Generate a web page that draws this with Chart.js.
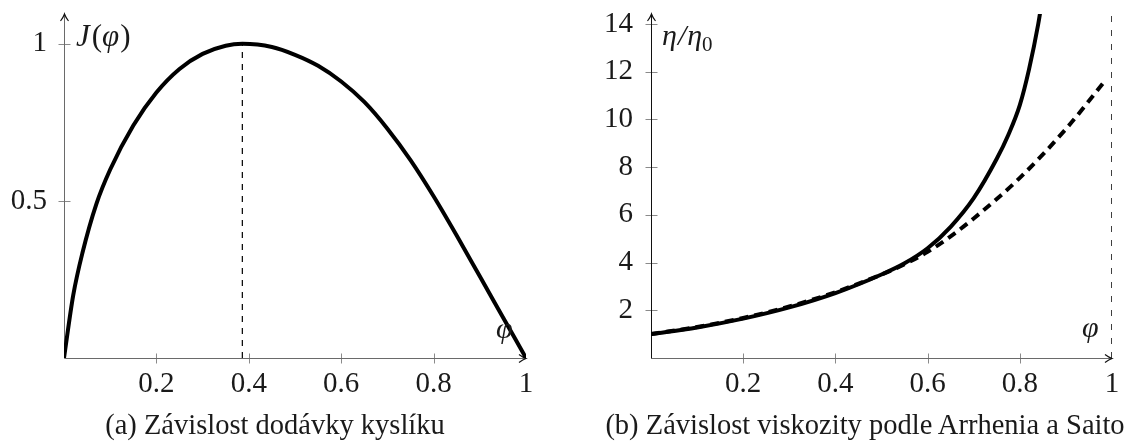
<!DOCTYPE html>
<html>
<head>
<meta charset="utf-8">
<script src="https://cdn.jsdelivr.net/npm/chart.js@4/dist/chart.umd.min.js"></script>
<style>
  body { margin: 0; background: #fff; width: 1128px; height: 446px; overflow: hidden; position: relative; font-family: "Liberation Serif", serif; }
  canvas { position: absolute; top: 0; }
  #left { left: 0; }
  #right { left: 564px; }
  .cap { position: absolute; top: 411px; font-size: 28.5px; line-height: 28.5px; color: #1a1a1a; white-space: nowrap; transform: translateX(-50%); }
</style>
</head>
<body>
<canvas id="left" width="564" height="446"></canvas>
<canvas id="right" width="564" height="446"></canvas>
<div class="cap" style="left:275px">(a) Závislost dodávky kyslíku</div>
<div class="cap" style="left:865px">(b) Závislost viskozity podle Arrhenia a Saito</div>
<script>
// --- data ---
// (a) oxygen delivery J(phi)
const phiJ = [0, 0.02, 0.04, 0.07, 0.1, 0.15, 0.2, 0.25, 0.3, 0.35, 0.386, 0.45, 0.5, 0.55, 0.6, 0.65, 0.7, 0.75, 0.8, 0.85, 0.9, 0.95, 1];
const valJ = [0, 0.2, 0.335, 0.49, 0.6, 0.74, 0.845, 0.92, 0.968, 0.994, 1, 0.99, 0.965, 0.93, 0.88, 0.815, 0.73, 0.63, 0.515, 0.39, 0.26, 0.13, 0];
const peakPhi = [0.386, 0.386];
const peakVal = [0, 1];

// (b) viscosity, Arrhenius (solid) and Saito (dashed)
const phiArr = [0, 0.1, 0.2, 0.3, 0.4, 0.5, 0.55, 0.6, 0.65, 0.7, 0.75, 0.775, 0.8, 0.82, 0.84, 0.85];
const valArr = [1, 1.28, 1.65, 2.12, 2.72, 3.5, 3.97, 4.6, 5.5, 6.7, 8.35, 9.35, 10.6, 12.1, 14.0, 15.2];
const phiSaito = [0, 0.1, 0.2, 0.3, 0.4, 0.5, 0.55, 0.6, 0.65, 0.7, 0.8, 0.9, 0.98];
const valSaito = [1, 1.3, 1.68, 2.16, 2.76, 3.5, 3.93, 4.45, 5.1, 5.85, 7.55, 9.6, 11.5];
const asymPhi = [1, 1];
const asymVal = [0, 14.42];

// ticks / ranges
const xTicks = [0.2, 0.4, 0.6, 0.8, 1];
const yTicksJ = [0.5, 1];
const yTicksEta = [2, 4, 6, 8, 10, 12, 14];
const yMaxJ = 1.095;
const yMaxEta = 14.42;

const pts = (xs, ys) => xs.map((x, i) => ({ x, y: ys[i] }));
const FONT = 'Liberation Serif';

function drawRuns(ctx, x, y, runs) {
  for (const r of runs) {
    ctx.font = (r.italic ? 'italic ' : '') + r.size + 'px "' + FONT + '"';
    ctx.fillText(r.t, x, y + (r.dy || 0));
    x += ctx.measureText(r.t).width + (r.gap || 0);
  }
}

const axesPlugin = {
  id: 'axes',
  beforeDatasetsDraw(chart, args, o) {
    const { ctx, chartArea: a, scales: { x, y } } = chart;
    const x0 = x.getPixelForValue(0), y0 = y.getPixelForValue(0);
    const yb = Math.round(y0) + 0.5, xl = Math.round(x0) + 0.5;
    ctx.save();
    ctx.lineWidth = 1;
    // tick marks crossing the axes
    ctx.strokeStyle = '#8a8a8a';
    ctx.beginPath();
    for (const t of x.ticks) {
      if (t.value >= 1) continue;
      const px = Math.round(x.getPixelForValue(t.value)) + 0.5;
      ctx.moveTo(px, yb - 5); ctx.lineTo(px, yb + 5);
    }
    for (const t of y.ticks) {
      const py = Math.round(y.getPixelForValue(t.value)) + 0.5;
      ctx.moveTo(xl - 6, py); ctx.lineTo(xl + 6, py);
    }
    ctx.stroke();
    // axis lines
    ctx.strokeStyle = o.xColor;
    ctx.beginPath(); ctx.moveTo(xl, yb); ctx.lineTo(a.right, yb); ctx.stroke();
    ctx.strokeStyle = o.yColor;
    ctx.beginPath(); ctx.moveTo(xl, yb); ctx.lineTo(xl, a.top); ctx.stroke();
    // arrow heads
    ctx.strokeStyle = '#111';
    ctx.lineWidth = 1.2;
    ctx.beginPath();
    ctx.moveTo(a.right - 7, yb - 4); ctx.quadraticCurveTo(a.right - 3, yb - 1, a.right, yb);
    ctx.quadraticCurveTo(a.right - 3, yb + 1, a.right - 7, yb + 4);
    ctx.moveTo(xl - 4, a.top + 7); ctx.quadraticCurveTo(xl - 1, a.top + 3, xl, a.top);
    ctx.quadraticCurveTo(xl + 1, a.top + 3, xl + 4, a.top + 7);
    ctx.stroke();
    ctx.restore();
  },
  afterDatasetsDraw(chart, args, o) {
    const { ctx } = chart;
    ctx.save();
    ctx.fillStyle = '#1a1a1a';
    ctx.textBaseline = 'alphabetic';
    drawRuns(ctx, o.yLabelX, o.yLabelY, o.yLabel);
    drawRuns(ctx, o.xLabelX, o.xLabelY, [{ t: 'φ', italic: true, size: 30 }]);
    ctx.restore();
  }
};

function makeScales(yTicks, yMax, yWidth, yPad) {
  const tickFont = { family: FONT, size: 29 };
  return {
    x: {
      type: 'linear', min: 0, max: 1,
      afterBuildTicks: s => { s.ticks = xTicks.map(v => ({ value: v })); },
      afterFit: s => { s.height = 88; s.paddingLeft = 0; s.paddingRight = 0; },
      grid: { display: false, drawTicks: false }, border: { display: false },
      ticks: { color: '#1a1a1a', font: tickFont, padding: 9, maxRotation: 0, autoSkip: false, callback: v => String(v) }
    },
    y: {
      type: 'linear', min: 0, max: yMax,
      afterBuildTicks: s => { s.ticks = yTicks.map(v => ({ value: v })); },
      afterFit: s => { s.width = yWidth; s.paddingTop = 0; s.paddingBottom = 0; },
      grid: { display: false, drawTicks: false }, border: { display: false },
      ticks: { color: '#1a1a1a', font: tickFont, padding: yPad, autoSkip: false, callback: v => String(v) }
    }
  };
}

const common = {
  responsive: false,
  animation: false,
  events: [],
  plugins: { legend: { display: false }, tooltip: { enabled: false } }
};

new Chart(document.getElementById('left'), {
  type: 'line',
  data: {
    datasets: [
      { data: pts(peakPhi, peakVal), borderColor: '#000', borderWidth: 1.2, borderDash: [6, 6], pointRadius: 0 },
      { data: pts(phiJ, valJ), borderColor: '#000', borderWidth: 4, pointRadius: 0, cubicInterpolationMode: 'monotone' }
    ]
  },
  options: {
    ...common,
    layout: { padding: { top: 14, right: 38, left: 0, bottom: 0 } },
    scales: makeScales(yTicksJ, yMaxJ, 64, 17),
    plugins: {
      ...common.plugins,
      axes: {
        xColor: '#6a6a6a', yColor: '#6a6a6a',
        xLabelX: 496, xLabelY: 338,
        yLabelX: 76, yLabelY: 46,
        yLabel: [{ t: 'J', italic: true, size: 31, gap: 2 }, { t: '(', size: 31 }, { t: 'φ', italic: true, size: 31, gap: 1 }, { t: ')', size: 31 }]
      }
    }
  },
  plugins: [axesPlugin]
});

new Chart(document.getElementById('right'), {
  type: 'line',
  data: {
    datasets: [
      { data: pts(asymPhi, asymVal), borderColor: '#000', borderWidth: 1.5, borderDash: [6, 8], pointRadius: 0 },
      { data: pts(phiSaito, valSaito), borderColor: '#000', borderWidth: 4, borderDash: [9, 6], pointRadius: 0, cubicInterpolationMode: 'monotone' },
      { data: pts(phiArr, valArr), borderColor: '#000', borderWidth: 4, pointRadius: 0, cubicInterpolationMode: 'monotone' }
    ]
  },
  options: {
    ...common,
    layout: { padding: { top: 14, right: 16, left: 0, bottom: 0 } },
    scales: makeScales(yTicksEta, yMaxEta, 87, 18),
    plugins: {
      ...common.plugins,
      axes: {
        xColor: '#6a6a6a', yColor: '#111',
        xLabelX: 518, xLabelY: 337,
        yLabelX: 98, yLabelY: 45,
        yLabel: [{ t: 'η', italic: true, size: 30, gap: 1 }, { t: '/', italic: true, size: 30, gap: 1 }, { t: 'η', italic: true, size: 30 }, { t: '0', size: 21, dy: 6 }]
      }
    }
  },
  plugins: [axesPlugin]
});
</script>
</body>
</html>
